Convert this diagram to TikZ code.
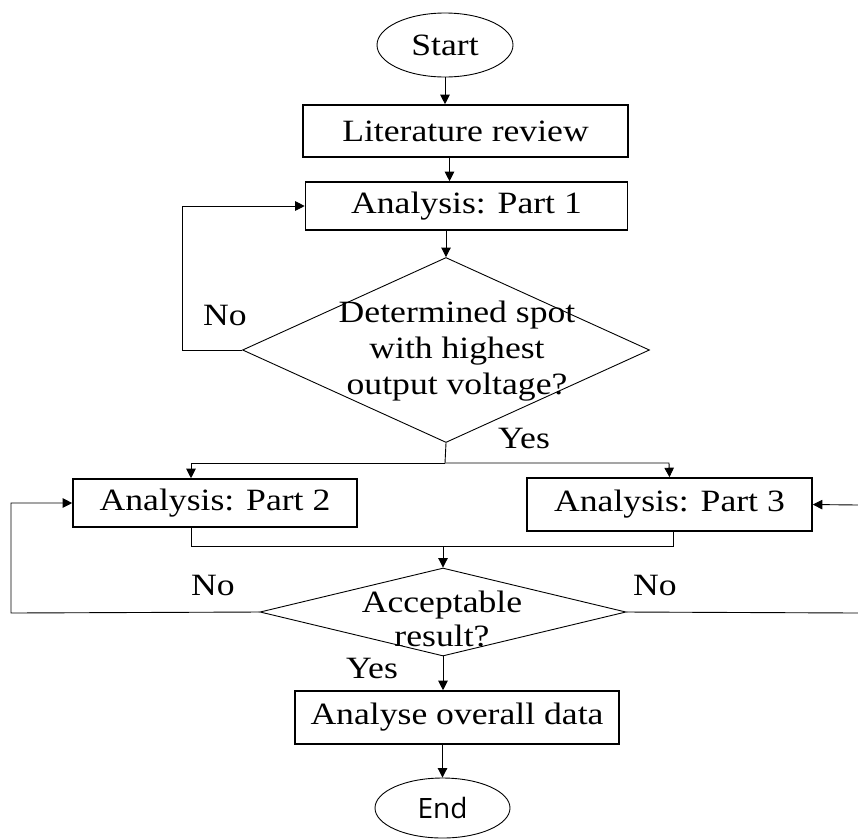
\documentclass[tikz,border=0pt]{standalone}
\usepackage{fontspec}
\setmainfont{Liberation Serif}[FakeStretch=1.15]
\newfontfamily\endfont{Open Sans}
\usetikzlibrary{shapes.geometric,arrows.meta}
\begin{document}
\begin{tikzpicture}[x=1pt,y=-1pt,
 every node/.style={font=\fontsize{31}{36}\selectfont},
 box/.style={draw,line width=1.6pt,rectangle,inner sep=0pt},
 oval/.style={draw,line width=0.9pt,ellipse,inner sep=0pt},
 dia/.style={draw,line width=0.9pt,diamond,inner sep=0pt},
 conn/.style={line width=0.9pt},
 arr/.style={conn,-{Triangle[length=9.5pt,width=9.5pt]}},
 txt/.style={align=center,inner sep=0pt},
 lbl/.style={inner sep=0pt}]
\useasboundingbox (0,0) rectangle (858,839);

\node[oval,minimum width=136pt,minimum height=64pt] (start) at (445,45) {Start};
\node[box,minimum width=325pt,minimum height=52pt] (lit) at (465.5,131) {Literature review};
\node[box,minimum width=322pt,minimum height=48pt] (p1) at (466.5,206) {Analysis: Part 1};
\node[dia,minimum width=407pt,minimum height=185pt] (d1) at (446,350) {};
\node[txt] (d1t) at (457,351.5) {Determined spot\\with highest\\output voltage?};
\node[box,minimum width=284pt,minimum height=48pt] (p2) at (215,503) {Analysis: Part 2};
\node[box,minimum width=285pt,minimum height=53pt] (p3) at (669.5,504.5) {Analysis: Part 3};
\node[dia,minimum width=366pt,minimum height=88pt] (d2) at (443,612) {};
\node[txt] (d2t) at (442,619) {Acceptable\\[-2pt]result?};
\node[box,minimum width=324pt,minimum height=53pt] (ov) at (457,717.5) {Analyse overall data};
\node[oval,minimum width=135pt,minimum height=60pt,font=\endfont\fontsize{28}{32}\selectfont] (end) at (442.5,808) {End};

\node[lbl] (no1) at (225,315) {No};
\node[lbl] (yes1) at (524,438) {Yes};
\node[lbl] (no2) at (213,585) {No};
\node[lbl] (no3) at (655,585) {No};
\node[lbl] (yes2) at (372,668) {Yes};

\coordinate (l1) at (182,350);
\coordinate (br) at (445,463);
\coordinate (bl) at (191,463);
\coordinate (brr) at (669,463);
\coordinate (ml) at (191,546);
\coordinate (mr) at (673,546);
\coordinate (ll) at (11,613);
\coordinate (rl) at (858,613);
\coordinate (rt) at (858,505);

\draw[arr] (start.south) -- (start.south |- lit.north);
\draw[arr] ([xshift=-16pt]lit.south) -- ([xshift=-16pt]lit.south |- p1.north);
\draw[arr] (p1.south -| d1.north) -- (d1.north);
\draw[arr] (d1.west) -- (l1) |- (p1.west);
\draw[conn] (d1.south) -- (br);
\draw[arr] (br) -- (bl) -- (bl |- p2.north);
\draw[arr] (br) -- (brr) -- (p3.north);
\draw[conn] (ml |- p2.south) -- (ml) -- (mr) -- (mr |- p3.south);
\draw[arr] (ml -| d2.north) -- (d2.north);
\draw[arr] (d2.west) -- (ll) |- (p2.west);
\draw[conn] (d2.east) -- (rl);
\draw[arr] (rt) -- (p3.east);
\draw[arr] (d2.south) -- (d2.south |- ov.north);
\draw[arr] (ov.south -| end.north) -- (end.north);
\end{tikzpicture}
\end{document}
